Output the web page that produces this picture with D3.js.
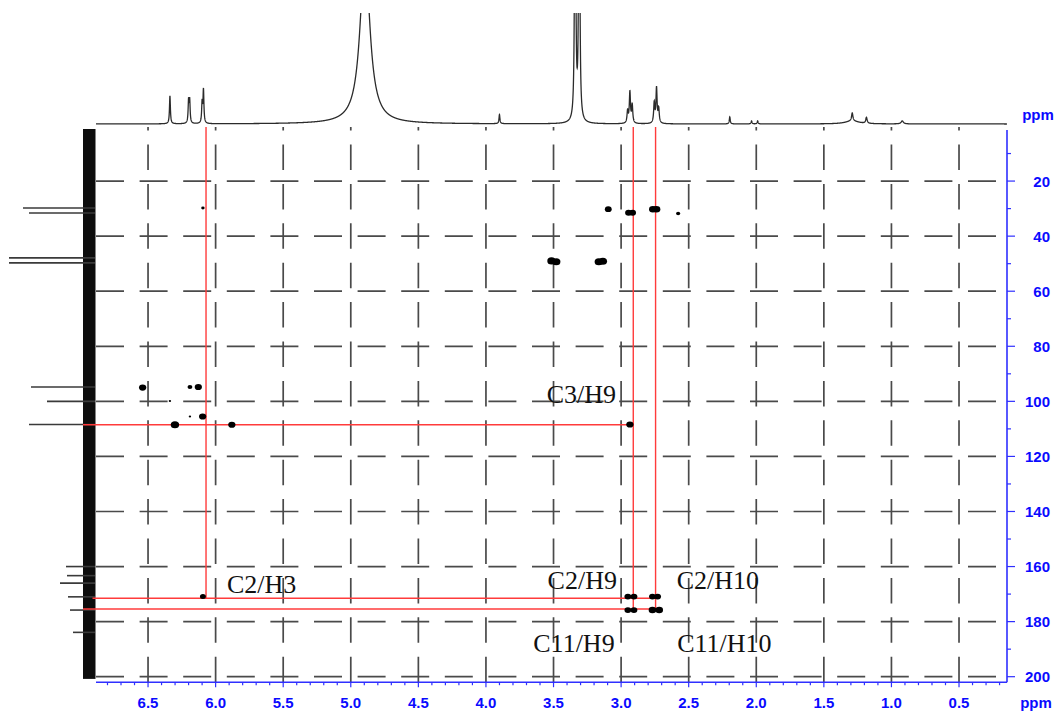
<!DOCTYPE html>
<html>
<head>
<meta charset="utf-8">
<script src="https://cdn.jsdelivr.net/npm/d3@7"></script>
<style>
  html, body { margin: 0; padding: 0; background: #fff; }
  svg { display: block; }
</style>
</head>
<body>
<svg id="chart" width="1059" height="714"></svg>
<script>
// ---- 1H projection (top trace): line positions (ppm), heights, half-widths (ppm)
const hPeakPpm   = [6.338, 6.200, 6.192, 6.100, 6.090, 4.895, 3.900, 3.340, 3.310, 2.952, 2.935, 2.918, 2.755, 2.738, 2.722, 2.196, 2.035, 1.990, 1.290, 1.290, 1.185, 0.920];
const hPeakInt   = [28, 22, 22, 20, 33, 170, 9, 420, 420, 12, 31, 18, 20, 35, 14, 7, 3, 3, 8, 3, 6, 3];
const hPeakWidth = [0.004, 0.004, 0.004, 0.004, 0.004, 0.043, 0.004, 0.004, 0.004, 0.005, 0.005, 0.005, 0.005, 0.005, 0.005, 0.004, 0.004, 0.004, 0.006, 0.060, 0.006, 0.010];

// ---- 13C projection (left trace): line positions (ppm) and intensities
const cPeakPpm = [29.8, 31.6, 47.9, 49.7, 94.8, 100.0, 108.4, 160.0, 163.3, 166.0, 171.0, 175.8, 183.9];
const cPeakInt = [72, 66, 86, 86, 64, 48, 66, 29, 28, 35, 27, 25, 22];

// ---- HMBC cross peaks: 1H shift, 13C shift, relative intensity
const crossH = [6.094, 3.095, 2.945, 2.915, 2.765, 2.738, 2.578, 3.515, 3.480, 3.165, 3.135,
                6.540, 6.190, 6.128, 6.338, 6.190, 6.096, 6.301, 5.880, 2.935,
                6.094, 2.950, 2.905, 2.768, 2.730, 2.950, 2.905, 2.768, 2.718];
const crossC = [29.8, 30.2, 31.5, 31.5, 30.2, 30.2, 31.8, 49.0, 49.3, 49.3, 49.1,
                95.0, 94.8, 94.8, 99.9, 105.5, 105.5, 108.5, 108.5, 108.4,
                170.9, 170.9, 170.9, 170.9, 170.9, 175.8, 175.8, 175.8, 175.8];
const crossI = [2, 8, 8, 8, 10, 10, 3, 12, 12, 12, 12,
                9, 4, 9, 1, 1, 9, 12, 9, 9,
                6, 8, 8, 8, 8, 8, 8, 10, 10];

// ---- correlation guide lines (ppm)
const guideV   = [6.071, 2.910, 2.745];       // 1H shifts
const guideVEnd = [171.5, 175.4, 175.4];      // 13C shift where each vertical stops
const guideH   = [108.5, 171.5, 175.4];       // 13C shifts
const guideHEnd = [2.910, 2.745, 2.745];      // 1H shift where each horizontal stops

// ---- assignment labels
const labelText = ["C3/H9", "C2/H3", "C2/H9", "C2/H10", "C11/H9", "C11/H10"];
const labelH    = [3.551, 5.916, 3.544, 2.589, 3.650, 2.585];
const labelC    = [100.7, 169.6, 168.3, 168.3, 190.9, 190.9];

// ---- axis ticks
const xTickValues = [6.5, 6.0, 5.5, 5.0, 4.5, 4.0, 3.5, 3.0, 2.5, 2.0, 1.5, 1.0, 0.5];
const yTickValues = [20, 40, 60, 80, 100, 120, 140, 160, 180, 200];

const svg = d3.select("#chart");
const AXIS_BLUE = "#2f2fff";
const LABEL_BLUE = "#0a0aff";
const GRID = "#4a4a4a";
const RED = "#ff3b3b";

// scales
const x = d3.scaleLinear().domain([6.885, 0.145]).range([96, 1007]);
const y = d3.scaleLinear().domain([0, 202]).range([126, 682.2]);
const hInt = d3.scaleLinear().domain([0, 111]).range([124, 13]);
const cInt = d3.scaleLinear().domain([0, 86]).range([95, 9]);
const rScale = d3.scaleSqrt().domain([0, 12]).range([0, 4.2]);

const plotTop = 127, plotBottom = y(202), plotLeft = 96, plotRight = 1007;

// ---- grid: dashed lines, vertical ones dashed from the bottom upward
const grid = svg.append("g");
const xGrid = d3.range(6.5, 0.4, -0.5).map(v => +v.toFixed(1));
const yGrid = d3.range(20, 201, 20);
grid.selectAll("line.gv").data(xGrid).join("line")
  .attr("x1", d => x(d)).attr("x2", d => x(d))
  .attr("y1", plotBottom).attr("y2", plotTop)
  .attr("stroke", GRID).attr("stroke-width", 1.7)
  .attr("stroke-dasharray", "25.5,13.9");
grid.selectAll("line.gh").data(yGrid).join("line")
  .attr("x1", plotLeft).attr("x2", plotRight - 4)
  .attr("y1", d => y(d)).attr("y2", d => y(d))
  .attr("stroke", GRID).attr("stroke-width", 1.7)
  .attr("stroke-dasharray", "28,15.6");

// ---- 1H projection trace (sum of Lorentzian lines)
svg.append("clipPath").attr("id", "clipTop")
  .append("rect").attr("x", 90).attr("y", 13).attr("width", 930).attr("height", 120);
const grid1H = d3.range(6.885, 0.145, -0.0008);
const trace1H = grid1H.map(p => {
  let s = 0;
  for (let i = 0; i < hPeakPpm.length; i++) {
    const g = hPeakWidth[i], d = p - hPeakPpm[i];
    s += hPeakInt[i] * g * g / (d * d + g * g);
  }
  return [p, s];
});
svg.append("path")
  .attr("clip-path", "url(#clipTop)")
  .attr("d", d3.line().x(d => x(d[0])).y(d => hInt(d[1]))(trace1H))
  .attr("fill", "none").attr("stroke", "#2b2b2b").attr("stroke-width", 1.3);

// ---- 13C projection (noise band plus lines)
svg.append("rect")
  .attr("x", 83).attr("y", plotTop + 2).attr("width", 12.5).attr("height", y(200.8) - plotTop - 2)
  .attr("fill", "#0d0d0d");
svg.selectAll("line.cpk").data(cPeakPpm).join("line")
  .attr("x1", 95).attr("x2", (d, i) => cInt(cPeakInt[i]))
  .attr("y1", d => y(d)).attr("y2", d => y(d))
  .attr("stroke", "#3a3a3a").attr("stroke-width", 1.6);

// ---- red correlation guides
const guides = svg.append("g").attr("stroke", RED).attr("stroke-width", 1.4);
guides.selectAll("line.v").data(guideV).join("line")
  .attr("x1", d => x(d)).attr("x2", d => x(d))
  .attr("y1", plotTop).attr("y2", (d, i) => y(guideVEnd[i]));
guides.selectAll("line.h").data(guideH).join("line")
  .attr("x1", (d, i) => i === 1 ? 92.5 : 83).attr("x2", (d, i) => x(guideHEnd[i]))
  .attr("y1", d => y(d)).attr("y2", d => y(d));

// ---- cross peaks
svg.selectAll("ellipse.xp").data(crossH).join("ellipse")
  .attr("cx", d => x(d)).attr("cy", (d, i) => y(crossC[i]))
  .attr("rx", (d, i) => rScale(crossI[i]))
  .attr("ry", (d, i) => rScale(crossI[i]) * 0.85)
  .attr("fill", "#000");

// ---- labels
svg.selectAll("text.lbl").data(labelText).join("text")
  .attr("x", (d, i) => x(labelH[i])).attr("y", (d, i) => y(labelC[i]))
  .attr("font-family", "'Liberation Serif', 'Times New Roman', serif")
  .attr("font-size", 26).attr("fill", "#111")
  .text(d => d);

// ---- bottom axis (1H)
const xAxisG = svg.append("g");
xAxisG.append("line").attr("x1", plotLeft).attr("x2", plotRight)
  .attr("y1", plotBottom).attr("y2", plotBottom)
  .attr("stroke", AXIS_BLUE).attr("stroke-width", 1.6);
const xMinor = d3.range(68, 1, -1).map(v => v / 10);
xAxisG.selectAll("line.t").data(xMinor).join("line")
  .attr("x1", d => x(d)).attr("x2", d => x(d))
  .attr("y1", plotBottom).attr("y2", d => plotBottom + (Math.abs(d * 2 - Math.round(d * 2)) < 1e-6 ? 5 : 3))
  .attr("stroke", AXIS_BLUE).attr("stroke-width", 1.2);
xAxisG.selectAll("text").data(xTickValues).join("text")
  .attr("x", d => x(d)).attr("y", 708)
  .attr("text-anchor", "middle")
  .attr("font-family", "'Liberation Sans', Arial, sans-serif")
  .attr("font-weight", "bold").attr("font-size", 15).attr("fill", LABEL_BLUE)
  .text(d => d.toFixed(1));
svg.append("text").attr("x", 1036).attr("y", 708).attr("text-anchor", "middle")
  .attr("font-family", "'Liberation Sans', Arial, sans-serif")
  .attr("font-weight", "bold").attr("font-size", 15).attr("fill", LABEL_BLUE)
  .text("ppm");

// ---- right axis (13C)
const yAxisG = svg.append("g");
yAxisG.append("line").attr("x1", plotRight).attr("x2", plotRight)
  .attr("y1", 130).attr("y2", plotBottom)
  .attr("stroke", AXIS_BLUE).attr("stroke-width", 1.6);
const yMinor = d3.range(10, 201, 10);
yAxisG.selectAll("line.t").data(yMinor).join("line")
  .attr("x1", plotRight).attr("x2", d => plotRight + (d % 20 === 0 ? 8 : 4))
  .attr("y1", d => y(d)).attr("y2", d => y(d))
  .attr("stroke", AXIS_BLUE).attr("stroke-width", 1.2);
yAxisG.selectAll("text").data(yTickValues).join("text")
  .attr("x", 1050).attr("y", d => y(d) + 5.5)
  .attr("text-anchor", "end")
  .attr("font-family", "'Liberation Sans', Arial, sans-serif")
  .attr("font-weight", "bold").attr("font-size", 15).attr("fill", LABEL_BLUE)
  .text(d => d);
svg.append("text").attr("x", 1038).attr("y", 120).attr("text-anchor", "middle")
  .attr("font-family", "'Liberation Sans', Arial, sans-serif")
  .attr("font-weight", "bold").attr("font-size", 15).attr("fill", LABEL_BLUE)
  .text("ppm");
</script>
</body>
</html>
